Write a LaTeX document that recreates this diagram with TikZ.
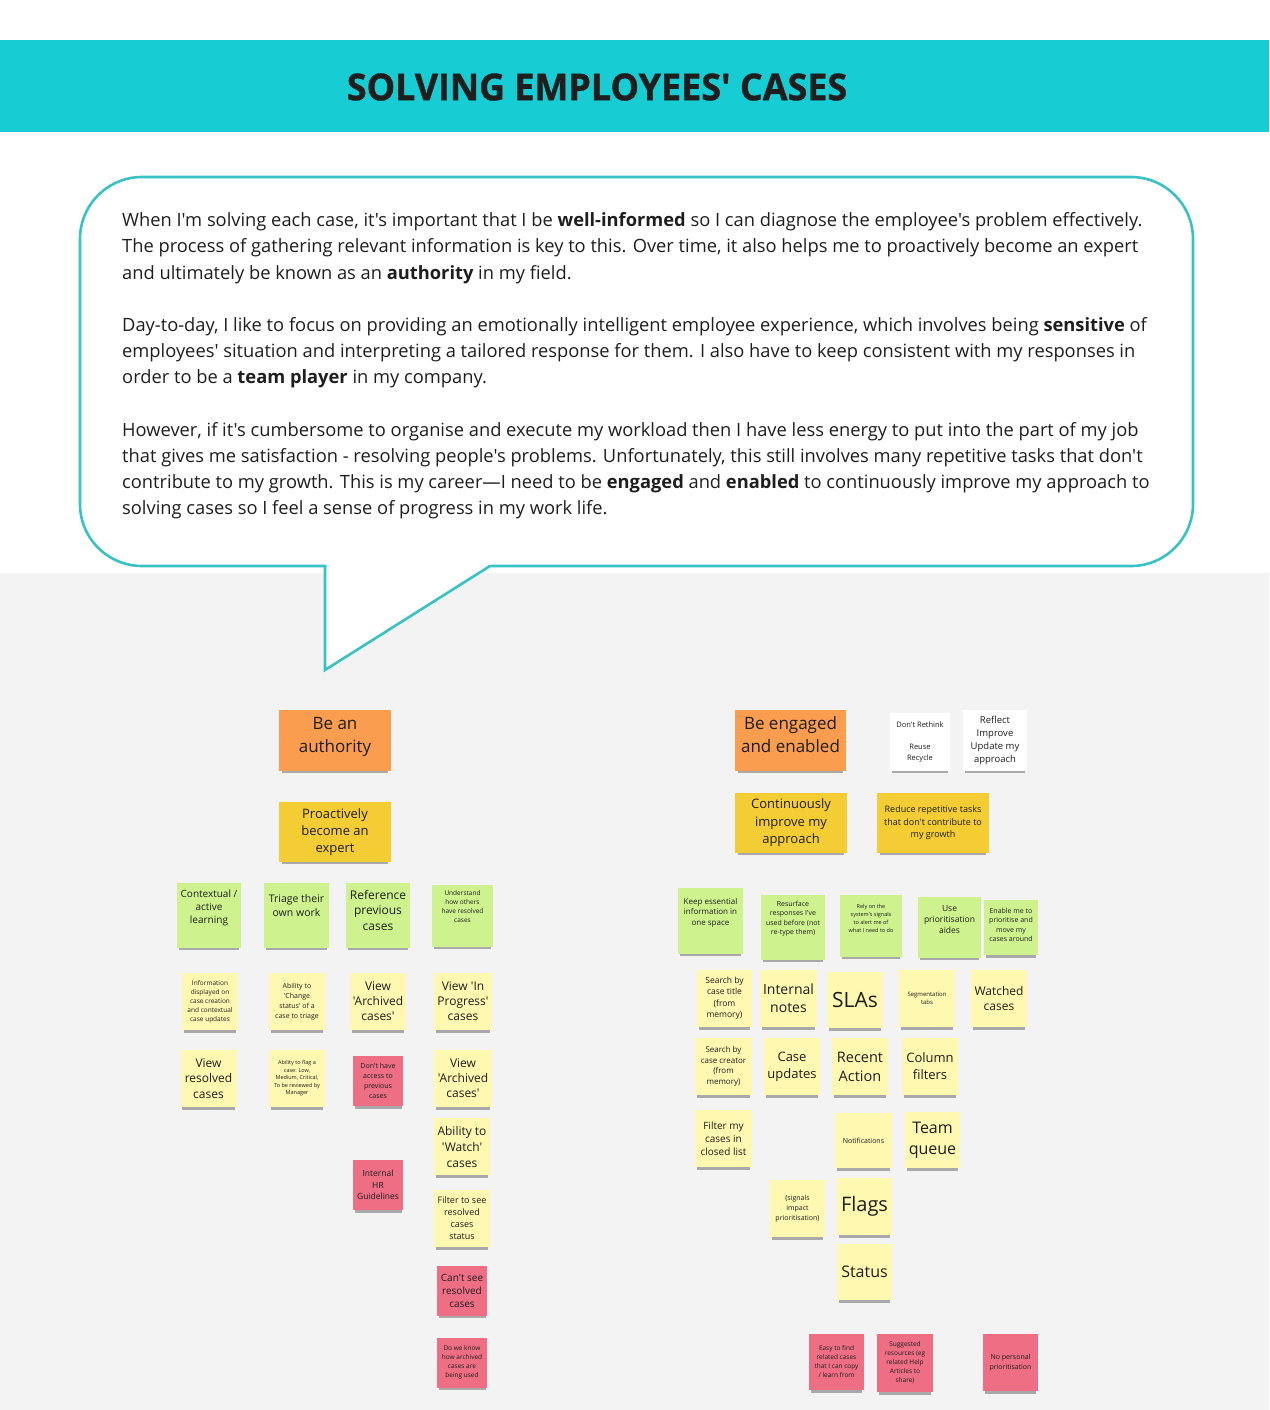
\documentclass[tikz,border=0pt]{standalone}
\usepackage{fontspec}
\usetikzlibrary{shadows}
\newfontfamily\osans{Open Sans}
\newfontfamily\titlefont{Open Sans}[FakeStretch=0.97, FakeBold=1]
\definecolor{band}{RGB}{23,204,211}
\definecolor{bubbleline}{RGB}{56,194,196}
\definecolor{board}{RGB}{244,243,243}
\definecolor{ink}{RGB}{30,30,30}
\definecolor{noteorange}{RGB}{250,157,78}
\definecolor{notegold}{RGB}{244,204,52}
\definecolor{noteyel}{RGB}{255,248,176}
\definecolor{notegreen}{RGB}{206,242,142}
\definecolor{notepink}{RGB}{238,110,132}

\begin{document}
\begin{tikzpicture}[
  x=1pt, y=-1pt,
  fs/.style 2 args={font=\osans\fontsize{#1}{#2}\selectfont},
  note/.style={inner sep=0pt, align=center, text=ink,
               minimum width=56, minimum height=57,
               drop shadow={shadow xshift=0pt, shadow yshift=-4.5pt,
                            shadow scale=0.94, opacity=0.3, fill=black}},
  yel/.style={note, fill=noteyel},
  grn/.style={note, fill=notegreen},
  pnk/.style={note, fill=notepink, minimum width=50, minimum height=50},
  org/.style={note, fill=noteorange, minimum width=112, minimum height=61},
  gld/.style={note, fill=notegold, minimum width=112, minimum height=60},
  wht/.style={note, fill=white},
  gtxt/.style={anchor=north, inner sep=0pt, align=center, text=ink},
  bubble/.style={draw=bubbleline, line width=2.6pt, fill=white}
]

\useasboundingbox (0,0) rectangle (1269,1410);
\fill[white] (0,0) rectangle (1269,1410);
\fill[board] (0,573) rectangle (1269,1410);
\fill[band] (0,40) rectangle (1269,132);

\node[font=\titlefont\bfseries\fontsize{37}{40}\selectfont, text=ink] (title)
  at (597,87) {SOLVING EMPLOYEES' CASES};

% speech bubble
\draw[bubble, rounded corners=62] (80,177) rectangle (1193,566);
\coordinate (tailL) at (325,566);
\coordinate (tailR) at (490,566);
\coordinate (tip) at (325,670);
\fill[white] (326.5,562) -- (494,562) -- (tip) -- cycle;
\draw[bubble, fill=none, line join=miter] (tailL) -- (tip) -- (tailR);

\node[fs={18.3}{26.2}, anchor=north west, align=left, text=ink, inner sep=0pt] (story) at (122,212.5) {%
When I'm solving each case, it's important that I be \textbf{well-informed} so I can diagnose the employee's problem effectively.\\
The process of gathering relevant information is key to this. Over time, it also helps me to proactively become an expert\\
and ultimately be known as an \textbf{authority} in my field.\\[26.2pt]
Day-to-day, I like to focus on providing an emotionally intelligent employee experience, which involves being \textbf{sensitive} of\\
employees' situation and interpreting a tailored response for them. I also have to keep consistent with my responses in\\
order to be a \textbf{team player} in my company.\\[26.2pt]
However, if it's cumbersome to organise and execute my workload then I have less energy to put into the part of my job\\
that gives me satisfaction - resolving people's problems. Unfortunately, this still involves many repetitive tasks that don't\\
contribute to my growth. This is my career—I need to be \textbf{engaged} and \textbf{enabled} to continuously improve my approach to\\
solving cases so I feel a sense of progress in my work life.};

% left cluster
\node[org, label={[gtxt, fs={17}{23}, yshift=-7]north:{Be an\\authority}}] (authority) at (335,740.5) {};
\node[gld, fs={13}{17}] (expert) at (335,832) {Proactively\\become an\\expert};

\node[grn, minimum width=64, minimum height=65,
  label={[gtxt, fs={10}{13}, yshift=-7]north:{Contextual /\\active\\learning}}] (context) at (209,915.5) {};
\node[grn, minimum width=65, minimum height=65,
  label={[gtxt, fs={10.5}{14}, yshift=-12]north:{Triage their\\own work}}] (triage) at (296.5,915.5) {};
\node[grn, minimum width=64, minimum height=65,
  label={[gtxt, fs={12}{15.5}, yshift=-7]north:{Reference\\previous\\cases}}] (reference) at (378,915.5) {};
\node[grn, minimum width=61, minimum height=62,
  label={[gtxt, fs={6.5}{9}, yshift=-6]north:{Understand\\how others\\have resolved\\cases}}] (understand) at (462.5,916) {};

\node[yel, fs={6.5}{9}] (infoshown) at (210,1001.5) {Information\\displayed on\\case creation\\and contextual\\case updates};
\node[yel, fs={7}{10}] (chstatus) at (297,1001.5) {Ability to\\'Change\\status' of a\\case to triage};
\node[yel, fs={12}{15}] (archivedA) at (378,1001.5) {View\\'Archived\\cases'};
\node[yel, fs={12}{15}, minimum width=58] (inprogress) at (463,1001.5) {View 'In\\Progress'\\cases};

\node[yel, fs={12}{15.5}] (resolved) at (208.5,1078.5) {View\\resolved\\cases};
\node[yel, fs={5.5}{7.5}] (flagcase) at (297,1078.5) {Ability to flag a\\case: Low,\\Medium, Critical,\\To be reviewed by\\Manager};
\node[pnk, fs={7}{10}] (noaccess) at (378,1081) {Don't have\\access to\\previous\\cases};
\node[yel, fs={12}{15}, minimum width=58] (archivedB) at (463,1078.5) {View\\'Archived\\cases'};
\node[yel, fs={12}{16}] (watch) at (462,1146.5) {Ability to\\'Watch'\\cases};
\node[pnk, fs={8.5}{11.5}] (hrguide) at (378,1185) {Internal\\HR\\Guidelines};
\node[yel, fs={9}{12}] (filtresolved) at (462,1218.5) {Filter to see\\resolved\\cases\\status};
\node[pnk, fs={10}{13}] (cantsee) at (462,1290.5) {Can't see\\resolved\\cases};
\node[pnk, fs={6.5}{9}] (archuse) at (462,1362.5) {Do we know\\how archived\\cases are\\being used};

% right cluster
\node[org, minimum width=111, label={[gtxt, fs={17}{23}, yshift=-7]north:{Be engaged\\and enabled}}] (engaged) at (790.5,740.5) {};
\node[wht, fs={7.5}{11.3}, minimum width=60, minimum height=58] (rethink) at (920,742) {Don't Rethink\\\\Reuse\\Recycle};
\node[wht, fs={9.5}{13}, minimum width=64, minimum height=61] (reflect) at (995,740.5) {Reflect\\Improve\\Update my\\approach};
\node[gld, fs={13}{17.5}] (improve) at (791,823) {Continuously\\improve my\\approach};
\node[gld, fs={9}{12.5}] (reduce) at (933,823) {Reduce repetitive tasks\\that don't contribute to\\my growth};

\node[grn, minimum width=65, minimum height=66,
  label={[gtxt, fs={8}{10.5}, yshift=-10]north:{Keep essential\\information in\\one space}}] (onespace) at (710.5,921) {};
\node[grn, minimum width=64, minimum height=65,
  label={[gtxt, fs={7}{9.5}, yshift=-6]north:{Resurface\\responses I've\\used before (not\\re-type them)}}] (resurface) at (793,927.5) {};
\node[grn, minimum width=62, minimum height=62,
  label={[gtxt, fs={5.5}{8}, yshift=-9]north:{Rely on the\\system's signals\\to alert me of\\what I need to do}}] (signalsrely) at (871,926) {};
\node[grn, minimum width=63, minimum height=61,
  label={[gtxt, fs={8.5}{11}, yshift=-8]north:{Use\\prioritisation\\aides}}] (aides) at (949.5,927.5) {};
\node[grn, minimum width=54, minimum height=55,
  label={[gtxt, fs={7}{9.5}, yshift=-8]north:{Enable me to\\prioritise and\\move my\\cases around}}] (movecases) at (1011,927.5) {};

\node[yel, fs={8.5}{11.5}, minimum width=55] (bytitle) at (724.5,998.5) {Search by\\case title\\(from\\memory)};
\node[yel, fs={14}{18}, minimum width=57] (notes) at (788.5,998.5) {Internal\\notes};
\node[yel, fs={21}{24}, minimum height=56] (slas) at (855,1000) {SLAs};
\node[yel, fs={6}{8.5}] (segtabs) at (927,998.5) {Segmentation\\tabs};
\node[yel, fs={12}{15}] (watched) at (999,998.5) {Watched\\cases};

\node[yel, fs={8}{10.7}, minimum width=57] (bycreator) at (723.5,1066.5) {Search by\\case creator\\(from\\memory)};
\node[yel, fs={13}{17}] (updates) at (792,1066.5) {Case\\updates};
\node[yel, fs={14.5}{19}] (recent) at (860,1066.5) {Recent\\Action};
\node[yel, fs={13}{17}] (colfilter) at (930,1066.5) {Column\\filters};

\node[yel, fs={10}{13}, minimum width=57] (closedlist) at (723.5,1138.5) {Filter my\\cases in\\closed list};
\node[yel, fs={7}{9}, minimum width=57, minimum height=55] (notif) at (863.5,1140.5) {Notifications};
\node[yel, fs={16}{21}, minimum width=55, minimum height=56] (teamq) at (932.5,1140) {Team\\queue};

\node[yel, fs={7}{10}, minimum width=55] (sigimpact) at (797.5,1208.5) {(signals\\impact\\prioritisation)};
\node[yel, fs={20}{24}, minimum width=55] (flags) at (864.5,1206.5) {Flags};
\node[yel, fs={16}{20}, minimum width=55, minimum height=56] (status) at (864.5,1272) {Status};

\node[pnk, fs={6.5}{9}, minimum width=55, minimum height=56] (relcases) at (836.5,1362) {Easy to find\\related cases\\that I can copy\\/ learn from};
\node[pnk, fs={6.5}{9}, minimum width=56, minimum height=58] (resources) at (905,1363) {Suggested\\resources (eg\\related Help\\Articles to\\share)};
\node[pnk, fs={7}{10}, minimum width=55, minimum height=57] (nopersonal) at (1010.5,1362.5) {No personal\\prioritisation};

\end{tikzpicture}
\end{document}
